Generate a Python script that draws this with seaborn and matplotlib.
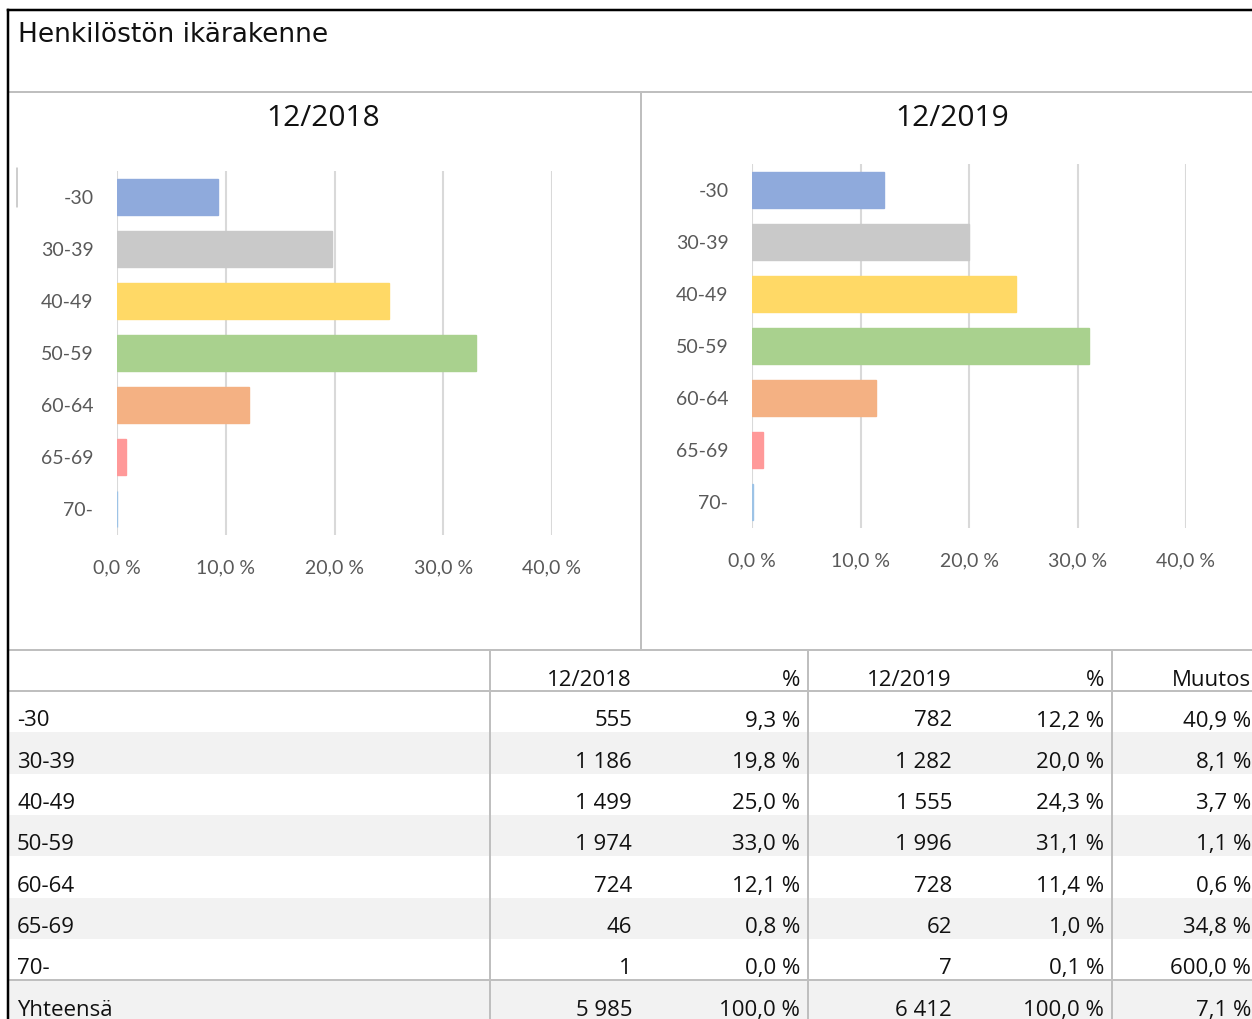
import matplotlib
matplotlib.use('Agg')
import matplotlib.pyplot as plt
from matplotlib.patches import Rectangle
import seaborn as sns

# --- data ---
title = 'Henkilöstön ikärakenne'
age_groups = ['-30', '30-39', '40-49', '50-59', '60-64', '65-69', '70-']
bar_colors = ['#8faadc', '#c9c9c9', '#ffd966', '#a9d18e', '#f4b183', '#ff9999', '#9dc3e6']
count_2018 = [555, 1186, 1499, 1974, 724, 46, 1]
pct_2018 = [9.3, 19.8, 25.0, 33.0, 12.1, 0.8, 0.0]
count_2019 = [782, 1282, 1555, 1996, 728, 62, 7]
pct_2019 = [12.2, 20.0, 24.3, 31.1, 11.4, 1.0, 0.1]
change_pct = [40.9, 8.1, 3.7, 1.1, 0.6, 34.8, 600.0]
total_label = 'Yhteensä'
total_2018, total_pct_2018 = 5985, 100.0
total_2019, total_pct_2019 = 6412, 100.0
total_change = 7.1
periods = ['12/2018', '12/2019']
table_header = ['', '12/2018', '%', '12/2019', '%', 'Muutos']
x_ticks = [0, 10, 20, 30, 40]

W, H = 1252, 1019
GRAY_LINE = '#bfbfbf'
GRID = '#d9d9d9'
TICK = '#595959'
TXT = '#111111'

sns.set_theme(style='white')
plt.rcParams['font.family'] = ['Open Sans', 'DejaVu Sans']


def fmt_int(n):
    return f'{n:,}'.replace(',', ' ')


def fmt_pct(v):
    return f'{v:.1f} %'.replace('.', ',')


def px_box(l, t, r, b):
    return [l / W, 1 - b / H, (r - l) / W, (b - t) / H]


fig = plt.figure(figsize=(W / 100, H / 100), dpi=100)

# background layer in pixel coordinates
bg = fig.add_axes([0, 0, 1, 1])
bg.set_xlim(0, W)
bg.set_ylim(H, 0)
bg.axis('off')

# --- table ---
row_h = 41.3
head_top = 650
rows_top = 691
body = []
for i, g in enumerate(age_groups):
    body.append([g, fmt_int(count_2018[i]), fmt_pct(pct_2018[i]),
                 fmt_int(count_2019[i]), fmt_pct(pct_2019[i]), fmt_pct(change_pct[i])])
body.append([total_label, fmt_int(total_2018), fmt_pct(total_pct_2018),
             fmt_int(total_2019), fmt_pct(total_pct_2019), fmt_pct(total_change)])

for i in range(len(body)):
    if i % 2 == 1 or i == len(body) - 1:
        top = rows_top + i * row_h
        bg.add_patch(Rectangle((9, top), W - 9, row_h + (20 if i == len(body) - 1 else 0),
                               color='#f2f2f2', lw=0, zorder=0))

FS = 16
col_right = [None, 632, 800, 952, 1104, 1251]
for j, txt in enumerate(table_header):
    if txt:
        bg.text(col_right[j], head_top + 30, txt, ha='right', va='center', fontsize=FS, color=TXT)
for i, row in enumerate(body):
    y = rows_top + i * row_h + 30
    bg.text(17, y, row[0], ha='left', va='center', fontsize=FS, color=TXT)
    for j in range(1, 6):
        bg.text(col_right[j], y, row[j], ha='right', va='center', fontsize=FS, color=TXT)

lw_px = 0.72
bg.plot([8, W], [92, 92], color=GRAY_LINE, lw=2 * lw_px)
bg.plot([641, 641], [92, 650], color=GRAY_LINE, lw=2 * lw_px)
bg.plot([8, W], [650, 650], color=GRAY_LINE, lw=2 * lw_px)
bg.plot([8, W], [rows_top, rows_top], color=GRAY_LINE, lw=2 * lw_px)
bg.plot([8, W], [rows_top + 7 * row_h, rows_top + 7 * row_h], color=GRAY_LINE, lw=2 * lw_px)
for x in [490, 808, 1112]:
    bg.plot([x, x], [650, H], color=GRAY_LINE, lw=2 * lw_px)
bg.plot([17, 17], [168, 207], color=GRAY_LINE, lw=1.5 * lw_px)

# black outer frame
bg.plot([8, 8], [10, H], color='black', lw=2.5 * lw_px, solid_capstyle='projecting')
bg.plot([8, W], [10, 10], color='black', lw=2.5 * lw_px, solid_capstyle='projecting')

bg.text(18, 35, title, ha='left', va='center', fontsize=19, color=TXT, family='DejaVu Sans')
bg.text(323, 118, periods[0], ha='center', va='center', fontsize=21.5, color=TXT)
bg.text(952, 118, periods[1], ha='center', va='center', fontsize=21.5, color=TXT)

# --- bar charts ---
chart_boxes = [px_box(117, 171, 552, 535), px_box(752, 164, 1186, 528)]
for box, pct in zip(chart_boxes, [pct_2018, pct_2019]):
    ax = fig.add_axes(box)
    sns.barplot(x=pct, y=age_groups, hue=age_groups, order=age_groups, hue_order=age_groups,
                palette=bar_colors, saturation=1, width=0.68, legend=False, orient='h', ax=ax)
    for p in ax.patches:
        p.set_edgecolor(p.get_facecolor())
        p.set_linewidth(1.0)
    ax.set_xlim(0, 40)
    ax.set_ylim(6.5, -0.5)
    ax.set_xticks(x_ticks)
    ax.set_xticklabels([fmt_pct(t) for t in x_ticks])
    ax.set_axisbelow(True)
    ax.grid(axis='x', color=GRID, lw=1.5)
    ax.grid(axis='y', visible=False)
    for s in ax.spines.values():
        s.set_visible(False)
    ax.set_xlabel('')
    ax.set_ylabel('')
    ax.patch.set_alpha(0)
    ax.tick_params(axis='y', length=0, pad=17, labelsize=14, labelcolor=TICK)
    ax.tick_params(axis='x', length=0, pad=17.5, labelsize=14, labelcolor=TICK)
    for lab in ax.get_xticklabels() + ax.get_yticklabels():
        lab.set_family(['Lato', 'DejaVu Sans'])

fig.savefig('out.png', dpi=100)
